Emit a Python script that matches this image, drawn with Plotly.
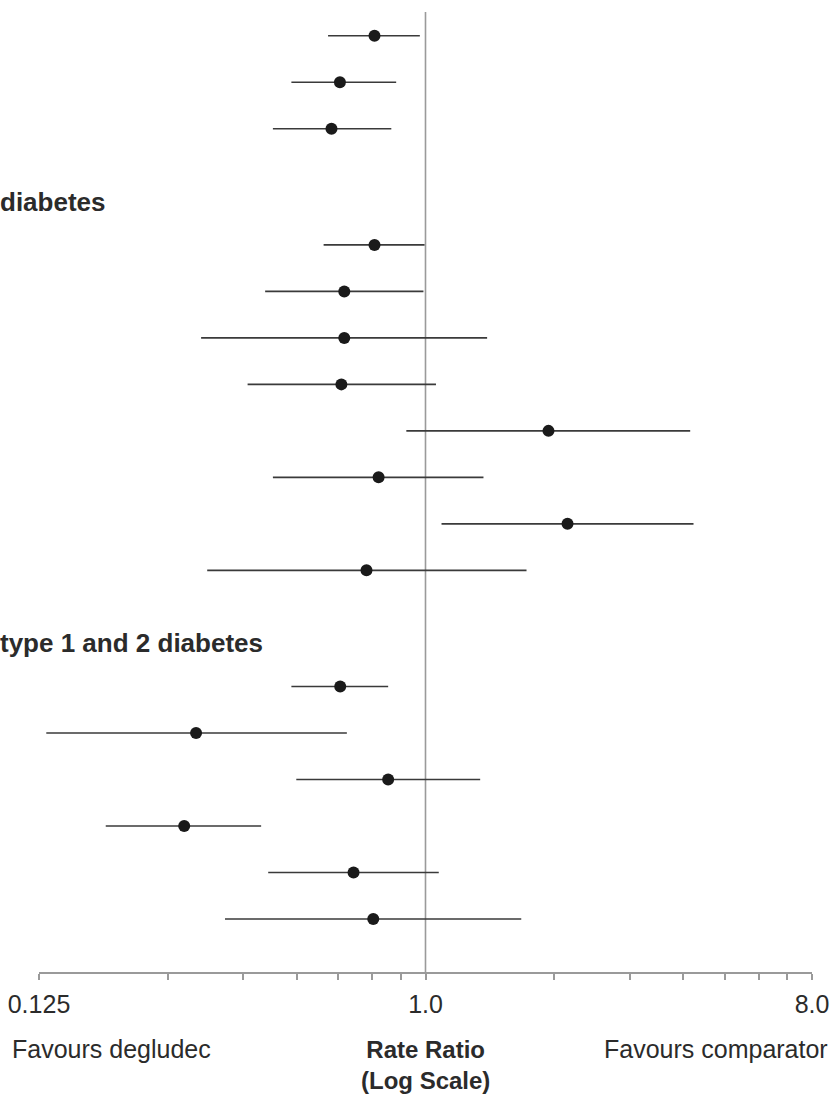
import math
import plotly.graph_objects as go

# ---- data ----
group_headers = ["", "diabetes", "type 1 and 2 diabetes"]
group_sizes = [3, 8, 6]

rate_ratio = [0.760, 0.631, 0.603,
              0.760, 0.646, 0.646, 0.636, 1.938, 0.777, 2.147, 0.728,
              0.632, 0.291, 0.818, 0.273, 0.679, 0.755]
ci_lower = [0.592, 0.486, 0.440,
            0.578, 0.422, 0.299, 0.384, 0.902, 0.440, 1.090, 0.309,
            0.486, 0.130, 0.499, 0.179, 0.429, 0.340]
ci_upper = [0.970, 0.854, 0.832,
            0.995, 0.989, 1.393, 1.058, 4.154, 1.366, 4.229, 1.722,
            0.818, 0.655, 1.342, 0.413, 1.074, 1.674]

tick_values = [0.125, 0.25, 0.375, 0.5, 0.625, 0.75, 0.875, 1, 2, 3, 4, 5, 6, 7, 8]
tick_labels = ["0.125", "", "", "", "", "", "", "1.0", "", "", "", "", "", "", "8.0"]

# ---- row layout ----
row_pos = []
header_pos = []
pos = 0.0
for gi, n in enumerate(group_sizes):
    if gi > 0:
        pos += 1.5
        header_pos.append(pos - 0.93)
    else:
        header_pos.append(None)
    for k in range(n):
        row_pos.append(pos)
        pos += 1.0

FONT = "Liberation Sans, Arial, Helvetica, sans-serif"
GRAY = "#9a9a9a"
TXT = "#2b2b2b"

lx, ly = [], []
for lo, hi, r in zip(ci_lower, ci_upper, row_pos):
    lx += [lo, hi, None]
    ly += [r, r, None]

fig = go.Figure()
fig.add_trace(go.Scatter(x=lx, y=ly, mode="lines",
                         line=dict(color="#3a3a3a", width=1.6),
                         hoverinfo="skip", showlegend=False))
fig.add_trace(go.Scatter(x=rate_ratio, y=row_pos, mode="markers",
                         marker=dict(color="#1a1a1a", size=12),
                         showlegend=False))

fig.add_shape(type="line", xref="x", yref="paper", x0=1, x1=1, y0=0, y1=1,
              line=dict(color=GRAY, width=1.6), layer="below")

annotations = []
for h, p in zip(group_headers, header_pos):
    if h and p is not None:
        annotations.append(dict(text="<b>%s</b>" % h, xref="paper", yref="y",
                                x=-41 / 773, y=p, xanchor="left", yanchor="middle",
                                showarrow=False, font=dict(family=FONT, size=26, color=TXT)))

def py(p):
    return (972 - p) / 960

annotations += [
    dict(text="Favours degludec", xref="paper", yref="paper", x=(10 - 39) / 773, y=py(1049),
         xanchor="left", yanchor="middle", showarrow=False,
         font=dict(family=FONT, size=25, color=TXT)),
    dict(text="Favours comparator", xref="paper", yref="paper", x=(830 - 39) / 773, y=py(1049),
         xanchor="right", yanchor="middle", showarrow=False,
         font=dict(family=FONT, size=25, color=TXT)),
    dict(text="<b>Rate Ratio</b><br><b>(Log Scale)</b>", xref="x", yref="paper", x=0,
         y=py(1065), xanchor="center", yanchor="middle", showarrow=False, align="center",
         font=dict(family=FONT, size=24, color=TXT)),
]

fig.update_layout(
    width=831, height=1098,
    margin=dict(l=39, r=19, t=12, b=126, pad=0, autoexpand=False),
    paper_bgcolor="white", plot_bgcolor="white",
    xaxis=dict(type="log", range=[math.log10(0.125), math.log10(8)],
               tickvals=tick_values, ticktext=tick_labels, automargin=False,
               showline=True, linecolor=GRAY, linewidth=1.6,
               ticks="outside", ticklen=6, tickwidth=1.6, tickcolor=GRAY,
               ticklabelstandoff=3,
               showgrid=False, zeroline=False,
               tickfont=dict(family=FONT, size=25, color=TXT)),
    yaxis=dict(range=[20.14, -0.51], visible=False, showgrid=False, zeroline=False,
               automargin=False),
    annotations=annotations,
)

fig.write_html("out.html", config={"displayModeBar": False},
               post_script="document.body.style.margin='0';document.body.style.overflow='hidden';")
